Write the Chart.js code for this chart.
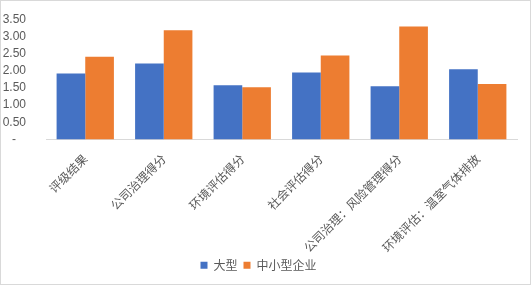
<!DOCTYPE html>
<html>
<head>
<meta charset="utf-8">
<script src="https://cdn.jsdelivr.net/npm/chart.js@4.4.0/dist/chart.umd.min.js"></script>
<style>
html,body{margin:0;padding:0;background:#fff;}
#wrap{position:absolute;left:0;top:0;width:532px;height:286px;}
#frame{position:absolute;left:0;top:0;width:531px;height:285px;box-sizing:border-box;border:1px solid #d9d9d9;pointer-events:none;}
canvas{position:absolute;left:0;top:0;}
</style>
</head>
<body>
<div id="wrap">
<canvas id="c" width="532" height="286"></canvas>
<div id="frame"></div>
</div>
<script>
const categories = ['评级结果','公司治理得分','环境评估得分','社会评估得分','公司治理：风险管理得分','环境评估：温室气体排放'];
const seriesNames = ['大型','中小型企业'];
const largeValues = [1.92, 2.21, 1.58, 1.95, 1.55, 2.04];
const smeValues = [2.41, 3.18, 1.52, 2.44, 3.29, 1.61];
const yTicks = [0, 0.5, 1, 1.5, 2, 2.5, 3, 3.5];

const gray = '#595959';
new Chart(document.getElementById('c'), {
  type: 'bar',
  data: {
    labels: categories,
    datasets: [
      {label: seriesNames[0], data: largeValues, backgroundColor: '#4472C4', categoryPercentage: 0.73, barPercentage: 1},
      {label: seriesNames[1], data: smeValues, backgroundColor: '#ED7D31', categoryPercentage: 0.73, barPercentage: 1}
    ]
  },
  options: {
    responsive: false,
    animation: false,
    devicePixelRatio: 1,
    layout: {padding: {top: 14, right: 15, bottom: 4.8, left: 0}},
    scales: {
      x: {
        grid: {display: false},
        border: {display: true, color: '#d9d9d9', width: 1},
        ticks: {
          color: gray, minRotation: 45, maxRotation: 45, padding: 4,
          font: {family: '"Noto Sans CJK SC", sans-serif', size: 12}
        },
        afterFit: s => { s.height = 113.8; }
      },
      y: {
        min: 0, max: 3.5,
        grid: {display: false},
        border: {display: false},
        afterBuildTicks: s => { s.ticks = yTicks.map(v => ({value: v})); },
        afterFit: s => { s.width = 46; },
        ticks: {
          color: gray, padding: 12, autoSkip: false,
          font: {family: '"Liberation Sans", sans-serif', size: 12},
          callback: v => v === 0 ? '-   ' : Number(v).toFixed(2)
        }
      }
    },
    plugins: {
      tooltip: {enabled: false},
      legend: {
        position: 'bottom',
        labels: {
          color: gray, boxWidth: 7, boxHeight: 7, padding: 6,
          font: {family: '"Noto Sans CJK SC", sans-serif', size: 12}
        }
      }
    }
  }
});
</script>
</body>
</html>
